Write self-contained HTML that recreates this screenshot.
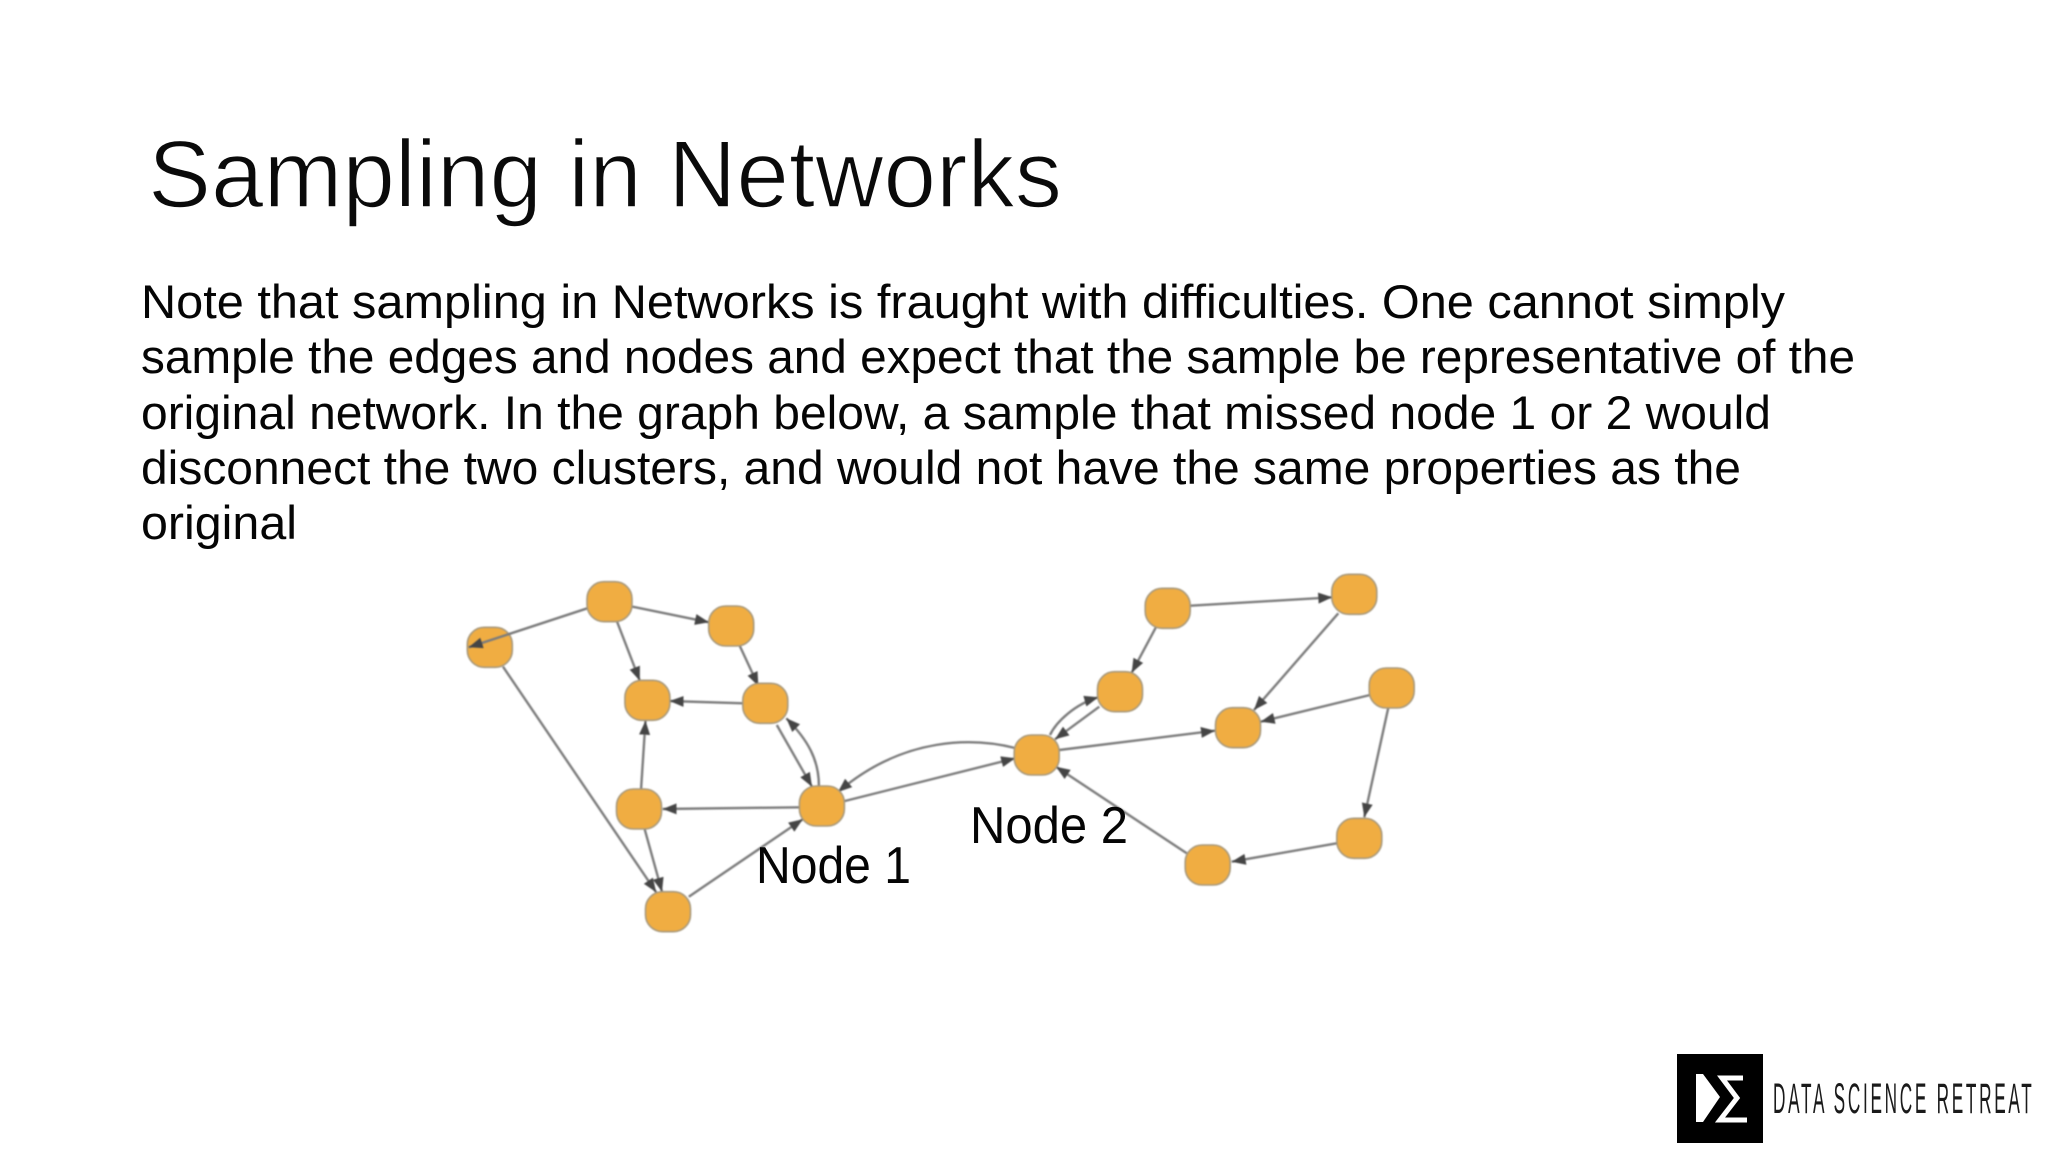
<!DOCTYPE html>
<html><head><meta charset="utf-8"><title>Sampling in Networks</title>
<style>
html,body{margin:0;padding:0;background:#fff;width:2048px;height:1152px;overflow:hidden}
svg{display:block}
.b{font-family:"Liberation Sans",sans-serif;font-size:47px;fill:#050505}
.g{filter:blur(.7px)}
.e path{fill:none;stroke:#7c7c7c;stroke-width:2.4;marker-end:url(#a)}
.n rect{fill:#f0ad42;stroke:#a8997c;stroke-width:1.6;rx:17px;ry:17px;width:45px;height:40px}
</style></head><body>
<svg width="2048" height="1152" viewBox="0 0 2048 1152" xmlns="http://www.w3.org/2000/svg">
<defs><marker id="a" markerUnits="userSpaceOnUse" markerWidth="15" markerHeight="12" refX="14" refY="6" orient="auto"><path d="M0,0.5 L14,6 L0,11.5 Z" fill="#454545"/></marker></defs>
<rect width="2048" height="1152" fill="#fff"/>
<text x="148" y="207" font-family="'Liberation Sans',sans-serif" font-size="96" fill="#0a0a0a" stroke="#fff" stroke-width="1.6" textLength="914" lengthAdjust="spacingAndGlyphs">Sampling in Networks</text>
<text class="b" x="141" y="318" textLength="1644" lengthAdjust="spacingAndGlyphs">Note that sampling in Networks is fraught with difficulties. One cannot simply</text>
<text class="b" x="141" y="373" textLength="1714" lengthAdjust="spacingAndGlyphs">sample the edges and nodes and expect that the sample be representative of the</text>
<text class="b" x="141" y="429" textLength="1630" lengthAdjust="spacingAndGlyphs">original network. In the graph below, a sample that missed node 1 or 2 would</text>
<text class="b" x="141" y="484" textLength="1600" lengthAdjust="spacingAndGlyphs">disconnect the two clusters, and would not have the same properties as the</text>
<text class="b" x="141" y="539" textLength="156" lengthAdjust="spacingAndGlyphs">original</text>
<g class="g">
<g class="n">
<rect x="467.3" y="627.3"/>
</g>
<g class="e">
<path d="M587.3,608.3 L468.7,647.3"/>
<path d="M632.5,606.7 L709,622.3"/>
<path d="M616.8,621 L639.8,680.7"/>
<path d="M739.7,645.7 L758.4,686"/>
<path d="M743,703.3 L669.6,701"/>
<path d="M818.9,786 C819,760 808,740 786.3,718.3"/>
<path d="M776.8,725 L812,786.7"/>
<path d="M641,790 L645.5,720.7"/>
<path d="M800.5,807.3 L662.7,809"/>
<path d="M644.7,829.3 L662,891.7"/>
<path d="M503,666.7 L656.2,892.3"/>
<path d="M688.8,896.7 L802.8,819.3"/>
<path d="M844.9,801 L1015.2,758.3"/>
<path d="M1015,748 C975,738 905,735 838,792"/>
<path d="M1190.7,605.7 L1332.3,597.3"/>
<path d="M1155.7,627.7 L1131.7,672.7"/>
<path d="M1338.3,613.3 L1254,710"/>
<path d="M1370,695 L1260.7,721.7"/>
<path d="M1059.3,750 L1215,730.7"/>
<path d="M1099.3,706.7 L1055,739.3"/>
<path d="M1050,735 C1056,722 1075,704 1098.3,697.3"/>
<path d="M1388.3,707.7 L1364.3,817.3"/>
<path d="M1336.7,843.3 L1231.7,861.7"/>
<path d="M1186.7,853.3 L1056,766.7"/>
</g>
<g class="n">
<rect x="587" y="581.7"/>
<rect x="708.7" y="606"/>
<rect x="624.9" y="680.3"/>
<rect x="742.8" y="683.3"/>
<rect x="616.5" y="789"/>
<rect x="799.4" y="786"/>
<rect x="645.5" y="891.7"/>
<rect x="1014.2" y="735"/>
<rect x="1097.5" y="671.7"/>
<rect x="1145.2" y="588.3"/>
<rect x="1331.8" y="574.3"/>
<rect x="1215.5" y="707.7"/>
<rect x="1369.2" y="668"/>
<rect x="1336.8" y="818.3"/>
<rect x="1185.2" y="845"/>
</g>
</g>
<text x="756" y="883" font-family="'Liberation Sans',sans-serif" font-size="52" fill="#050505" textLength="155" lengthAdjust="spacingAndGlyphs">Node 1</text>
<text x="970" y="843" font-family="'Liberation Sans',sans-serif" font-size="52" fill="#050505" textLength="158" lengthAdjust="spacingAndGlyphs">Node 2</text>
<rect x="1677" y="1054" width="86" height="89" fill="#000"/>
<path d="M1696,1074 L1703,1074 L1720,1097 L1703,1122 L1696,1122 Z" fill="#fff"/>
<path d="M1743,1078 L1722,1078 L1737,1098 L1720,1120 L1747,1120" fill="none" stroke="#fff" stroke-width="5"/>
<g transform="translate(1773,1113) scale(.4,1)"><text x="0" y="0" font-family="'Liberation Sans',sans-serif" font-size="43" fill="#1a1a1a" textLength="647" lengthAdjust="spacing">DATA SCIENCE RETREAT</text></g>
</svg>
</body></html>
